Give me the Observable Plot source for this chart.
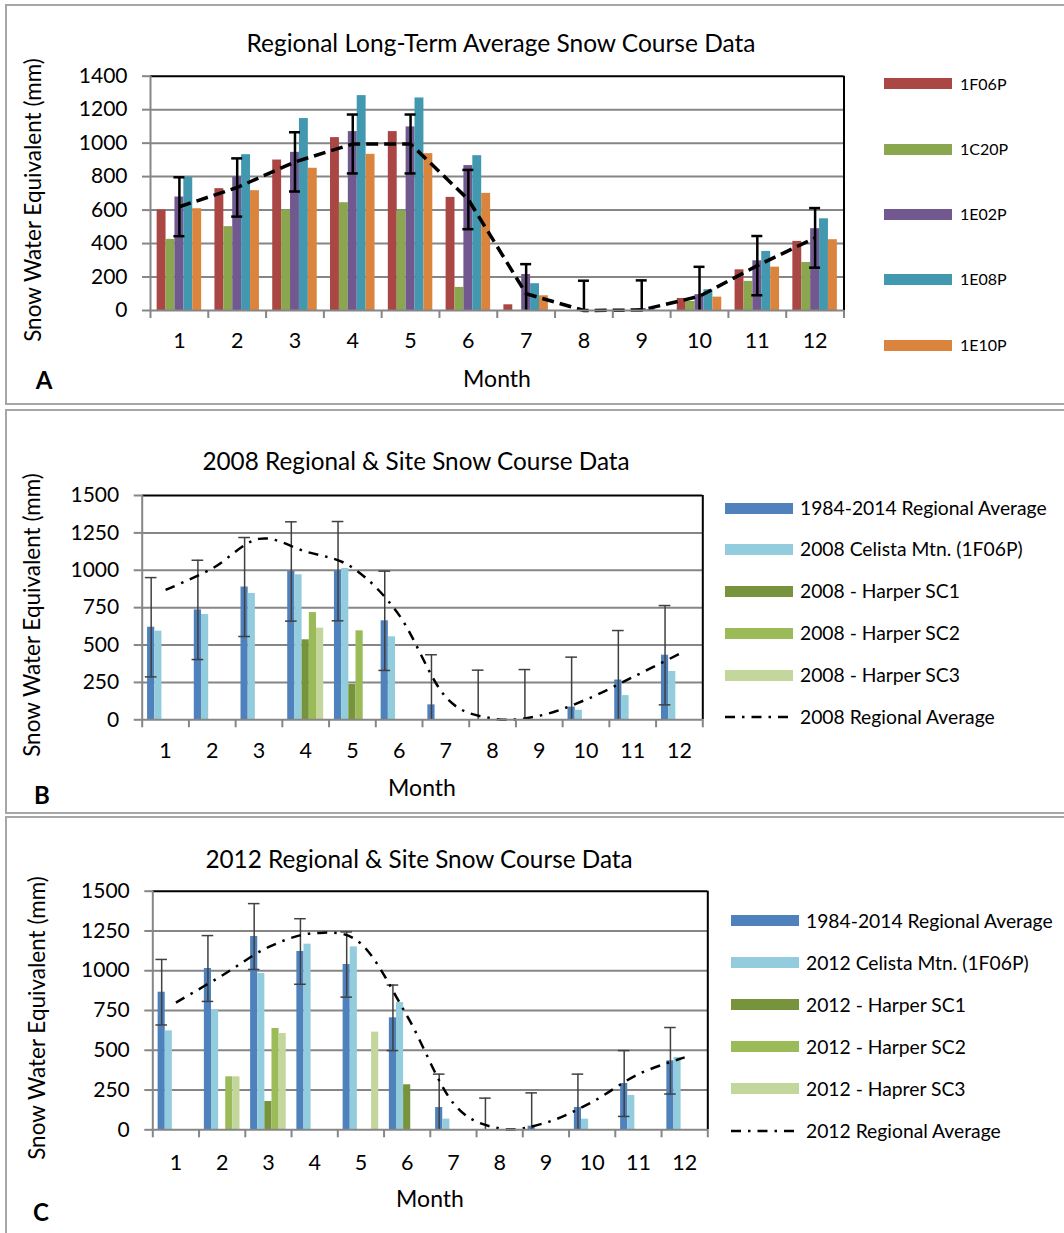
<!DOCTYPE html>
<html><head><meta charset="utf-8">
<script src="https://cdn.jsdelivr.net/npm/d3@7"></script>
<script src="https://cdn.jsdelivr.net/npm/@observablehq/plot@0.6"></script>
<style>
html,body{margin:0;padding:0;overflow:hidden;background:#fff;}
#root{position:relative;width:1064px;height:1233px;overflow:hidden;font-family:Lato, sans-serif;color:#000;}
#root svg{position:absolute;left:0;}
.abs{position:absolute;white-space:nowrap;line-height:1;}
.frame{position:absolute;border:2px solid #a6a6a6;box-sizing:border-box;}
.sw{position:absolute;}
</style></head><body><div id="root"></div>
<script>
const months = [1,2,3,4,5,6,7,8,9,10,11,12];
const monthBounds = [0.5,1.5,2.5,3.5,4.5,5.5,6.5,7.5,8.5,9.5,10.5,11.5,12.5];

// ---------- Panel A ----------
const aTitle = "Regional Long-Term Average Snow Course Data";
const aSeries = ["1F06P","1C20P","1E02P","1E08P","1E10P"];
const aColors = ["#AA4644","#8AA64E","#71588F","#4198AF","#DB843D"];
const a1F06P = [600, 728, 899, 1033, 1069, 676, 34, 0, 0, 72, 243, 413];
const a1C20P = [425, 501, 600, 644, 597, 138, 0, 0, 0, 54, 174, 287];
const a1E02P = [678, 798, 945, 1069, 1097, 866, 215, 0, 12, 95, 297, 489];
const a1E08P = [795, 931, 1147, 1284, 1270, 925, 160, 0, 5, 124, 353, 548];
const a1E10P = [608, 716, 850, 933, 937, 700, 88, 0, 0, 80, 259, 423];
const aMean = [620, 735, 888, 995, 995, 663, 100, 0, 3, 85, 268, 434];
const aErr = [176, 174, 177, 176, 176, 177, 177, 178, 177, 176, 177, 178];
const aTicks = [0, 200, 400, 600, 800, 1000, 1200, 1400];

// ---------- Panel B ----------
const bTitle = "2008 Regional & Site Snow Course Data";
const bSeries = ["1984-2014 Regional Average","2008 Celista Mtn. (1F06P)","2008 - Harper SC1","2008 - Harper SC2","2008 - Harper SC3"];
const bLineName = "2008 Regional Average";
const bRegional = [619, 735, 888, 992, 994, 662, 100, 0, 3, 85, 266, 432];
const bCelista = [593, 704, 845, 970, 1012, 555, 0, 0, 0, 64, 162, 323];
const bSC1 = [0, 0, 0, 535, 236, 0, 0, 0, 0, 0, 0, 0];
const bSC2 = [0, 0, 0, 717, 595, 0, 0, 0, 0, 0, 0, 0];
const bSC3 = [0, 0, 0, 613, 0, 0, 0, 0, 0, 0, 0, 0];
const bErr = [332, 332, 331, 332, 332, 332, 335, 332, 333, 334, 331, 332];
const b2008Avg = [869, 1012, 1210, 1125, 1018, 700, 151, 9, 27, 135, 285, 441];

// ---------- Panel C ----------
const cTitle = "2012 Regional & Site Snow Course Data";
const cSeries = ["1984-2014 Regional Average","2012 Celista Mtn. (1F06P)","2012 - Harper SC1","2012 - Harper SC2","2012 - Haprer SC3"];
const cLineName = "2012 Regional Average";
const cRegional = [865, 1014, 1215, 1121, 1039, 704, 140, 0, 23, 140, 291, 434];
const cCelista = [622, 752, 983, 1167, 1150, 800, 67, 0, 0, 67, 216, 455];
const cSC1 = [0, 0, 178, 0, 0, 283, 0, 0, 0, 0, 0, 0];
const cSC2 = [0, 333, 637, 0, 0, 0, 0, 0, 0, 0, 0, 0];
const cSC3 = [0, 333, 605, 0, 614, 0, 0, 0, 0, 0, 0, 0];
const cErr = [206, 207, 207, 206, 205, 206, 210, 199, 209, 210, 207, 209];
const c2012Avg = [800, 970, 1148, 1236, 1170, 715, 167, 8, 45, 175, 350, 455];

const bcColors = ["#4F81BD","#93CDDD","#77933C","#9BBB59","#C3D69B"];
const bcTicks = [0, 250, 500, 750, 1000, 1250, 1500];

const yLabel = "Snow Water Equivalent (mm)";
const xLabel = "Month";

const root = document.getElementById("root");
const W = 1064;
const G = 0.77; // group width (fraction of month)

function barRows(names, arrays) {
  const rows = [];
  arrays.forEach((arr, i) => arr.forEach((v, k) => {
    if (v > 0) rows.push({m: months[k], s: names[i], i, v});
  }));
  return rows;
}
const bx1 = d => d.m - G / 2 + d.i * G / 5;
const bx2 = d => d.m - G / 2 + (d.i + 1) * G / 5;

function makePanel(p) {
  const rows = barRows(p.series, p.values);
  const errRows = months.map((m, k) => ({
    x: m + p.errOffset, lo: p.errMean[k] - p.err[k], hi: p.errMean[k] + p.err[k]
  }));
  const caps = [];
  errRows.forEach(d => {
    if (d.hi <= p.yMax) caps.push({x: d.x, y: d.hi});
    if (d.lo >= 0) caps.push({x: d.x, y: d.lo});
  });
  const lineRows = months.map((m, k) => ({m, v: p.line[k]}));
  const errMarks = [
    Plot.ruleX(errRows, {x: "x", y1: d => Math.max(0, d.lo), y2: "hi", stroke: p.errColor, strokeWidth: p.errWidth}),
    Plot.ruleY(caps, {y: "y", x1: d => d.x - p.capHalf, x2: d => d.x + p.capHalf, stroke: p.errColor, strokeWidth: p.errWidth})
  ];
  const lineMark = Plot.line(lineRows, {x: "m", y: "v", stroke: "#000", strokeWidth: p.lineWidth,
    strokeDasharray: p.dash, strokeLinecap: "butt", curve: p.curve});
  const chart = Plot.plot({
    width: W, height: p.height,
    marginLeft: p.plotL, marginRight: W - p.plotR,
    marginTop: p.plotT - p.svgTop, marginBottom: p.svgTop + p.height - p.plotB,
    x: {domain: [0.5, 12.5]},
    y: {domain: [0, p.yMax]},
    color: {domain: p.series, range: p.colors},
    style: {background: "transparent", fontFamily: "Lato, sans-serif", fontSize: "21px", overflow: "visible", color: "#000"},
    marks: [
      Plot.ruleY(p.ticks.filter(t => t > 0 && t < p.yMax), {stroke: "#868686", strokeWidth: 2}),
      Plot.rectY(rows, {x1: bx1, x2: bx2, y1: 0, y2: "v", fill: "s"}),
      ...(p.lineFirst ? [lineMark, ...errMarks] : [...errMarks, lineMark]),
      Plot.ruleY([p.yMax], {stroke: "#000", strokeWidth: 2}),
      Plot.ruleX([12.5], {stroke: "#000", strokeWidth: 2}),
      Plot.ruleX([0.5], {stroke: "#868686", strokeWidth: 2}),
      Plot.ruleY([0], {stroke: "#868686", strokeWidth: 2}),
      Plot.axisY({ticks: p.ticks, tickSize: 8, tickPadding: 15, stroke: "#868686", strokeWidth: 2, fill: "#000", fontSize: 21, tickFormat: d => String(d)}),
      Plot.axisX({ticks: monthBounds, tickSize: 8, stroke: "#868686", strokeWidth: 2, tickFormat: () => ""}),
      Plot.axisX({ticks: months, tickSize: 0, tickPadding: p.xPad, fill: "#000", fontSize: 21.5, tickFormat: d => String(d)})
    ]
  });
  chart.style.top = p.svgTop + "px";
  root.appendChild(chart);
}

function text(str, x, y, opts = {}) {
  const el = document.createElement("div");
  el.className = "abs";
  el.textContent = str;
  el.style.left = x + "px";
  el.style.top = y + "px";
  el.style.fontSize = (opts.size || 20) + "px";
  if (opts.bold) el.style.fontWeight = "bold";
  const anchor = opts.anchor || "center";
  const tx = anchor === "start" ? "0" : "-50%";
  el.style.transform = `translate(${tx},-50%)`;
  if (opts.rotate) { el.style.transform = `translate(-50%,-50%) rotate(${opts.rotate}deg)`; }
  root.appendChild(el);
  return el;
}
function frame(l, t, w, h) {
  const el = document.createElement("div");
  el.className = "frame";
  Object.assign(el.style, {left: l + "px", top: t + "px", width: w + "px", height: h + "px"});
  root.appendChild(el);
}
function swatch(l, cy, w, h, color) {
  const el = document.createElement("div");
  el.className = "sw";
  Object.assign(el.style, {left: l + "px", top: (cy - h / 2) + "px", width: w + "px", height: h + "px", background: color});
  root.appendChild(el);
}
function lineSwatch(l, cy, w, dash) {
  const ns = "http://www.w3.org/2000/svg";
  const s = document.createElementNS(ns, "svg");
  s.setAttribute("width", w); s.setAttribute("height", 8);
  s.style.position = "absolute"; s.style.left = l + "px"; s.style.top = (cy - 4) + "px";
  const ln = document.createElementNS(ns, "line");
  ln.setAttribute("x1", 0); ln.setAttribute("x2", w); ln.setAttribute("y1", 4); ln.setAttribute("y2", 4);
  ln.setAttribute("stroke", "#000"); ln.setAttribute("stroke-width", 2.5); ln.setAttribute("stroke-dasharray", dash);
  s.appendChild(ln);
  root.appendChild(s);
}

frame(5, 4, 1065, 401);
frame(5, 409, 1065, 405);
frame(5, 816, 1065, 422);

// Panel A
makePanel({svgTop: 0, height: 404, plotL: 150, plotT: 75.7, plotR: 843.5, plotB: 310, yMax: 1400, ticks: aTicks,
  series: aSeries, colors: aColors, values: [a1F06P, a1C20P, a1E02P, a1E08P, a1E10P],
  errMean: aMean, err: aErr, errOffset: 0, errColor: "#000", errWidth: 2.5, capHalf: 0.095,
  line: aMean, lineWidth: 3.5, dash: "12,6", curve: "linear", lineFirst: true, xPad: 22.5});
// Panel B
const dashDot = "10,7,2.5,7";
makePanel({svgTop: 408, height: 405, plotL: 141.7, plotT: 495, plotR: 702.3, plotB: 719.3, yMax: 1500, ticks: bcTicks,
  series: bSeries, colors: bcColors, values: [bRegional, bCelista, bSC1, bSC2, bSC3],
  errMean: bRegional, err: bErr, errOffset: -0.308, errColor: "#404040", errWidth: 1.5, capHalf: 0.125,
  line: b2008Avg, lineWidth: 2.5, dash: dashDot, curve: "cardinal", lineFirst: false, xPad: 23.2});
// Panel C
makePanel({svgTop: 815, height: 418, plotL: 152.3, plotT: 890.7, plotR: 707.3, plotB: 1129.3, yMax: 1500, ticks: bcTicks,
  series: cSeries, colors: bcColors, values: [cRegional, cCelista, cSC1, cSC2, cSC3],
  errMean: cRegional, err: cErr, errOffset: -0.308, errColor: "#404040", errWidth: 1.5, capHalf: 0.125,
  line: c2012Avg, lineWidth: 2.5, dash: dashDot, curve: "cardinal", lineFirst: false, xPad: 25.2});

// Texts A
text(aTitle, 501, 43, {size: 24.5});
text(yLabel, 33, 200, {size: 22.5, rotate: -90});
text(xLabel, 497, 378, {size: 23});
text("A", 44, 380, {size: 24, bold: true});
const aLegY = [83.7, 149.3, 214.3, 279.3, 345.3];
aSeries.forEach((s, i) => { swatch(884, aLegY[i], 68, 11, aColors[i]); text(s, 960, aLegY[i], {size: 16, anchor: "start"}); });

// Texts B
text(bTitle, 416, 460.5, {size: 24.3});
text(yLabel, 32, 615, {size: 22.5, rotate: -90});
text(xLabel, 422, 787, {size: 23});
text("B", 42, 795, {size: 24, bold: true});
const bLegY = [508, 549, 591, 633, 675, 716.7];
bSeries.forEach((s, i) => { swatch(725, bLegY[i], 68, 11, bcColors[i]); text(s, 800, bLegY[i], {size: 19.3, anchor: "start"}); });
lineSwatch(725, bLegY[5], 68, dashDot);
text(bLineName, 800, bLegY[5], {size: 19.3, anchor: "start"});

// Texts C
text(cTitle, 419, 859, {size: 24.3});
text(yLabel, 37, 1018, {size: 22.5, rotate: -90});
text(xLabel, 430, 1198, {size: 23});
text("C", 41, 1212, {size: 24, bold: true});
const cLegY = [920.7, 962.7, 1004.7, 1046.7, 1088.7, 1130.7];
cSeries.forEach((s, i) => { swatch(730.7, cLegY[i], 68, 11, bcColors[i]); text(s, 806, cLegY[i], {size: 19.3, anchor: "start"}); });
lineSwatch(730.7, cLegY[5], 68, dashDot);
text(cLineName, 806, cLegY[5], {size: 19.3, anchor: "start"});
</script></body></html>
